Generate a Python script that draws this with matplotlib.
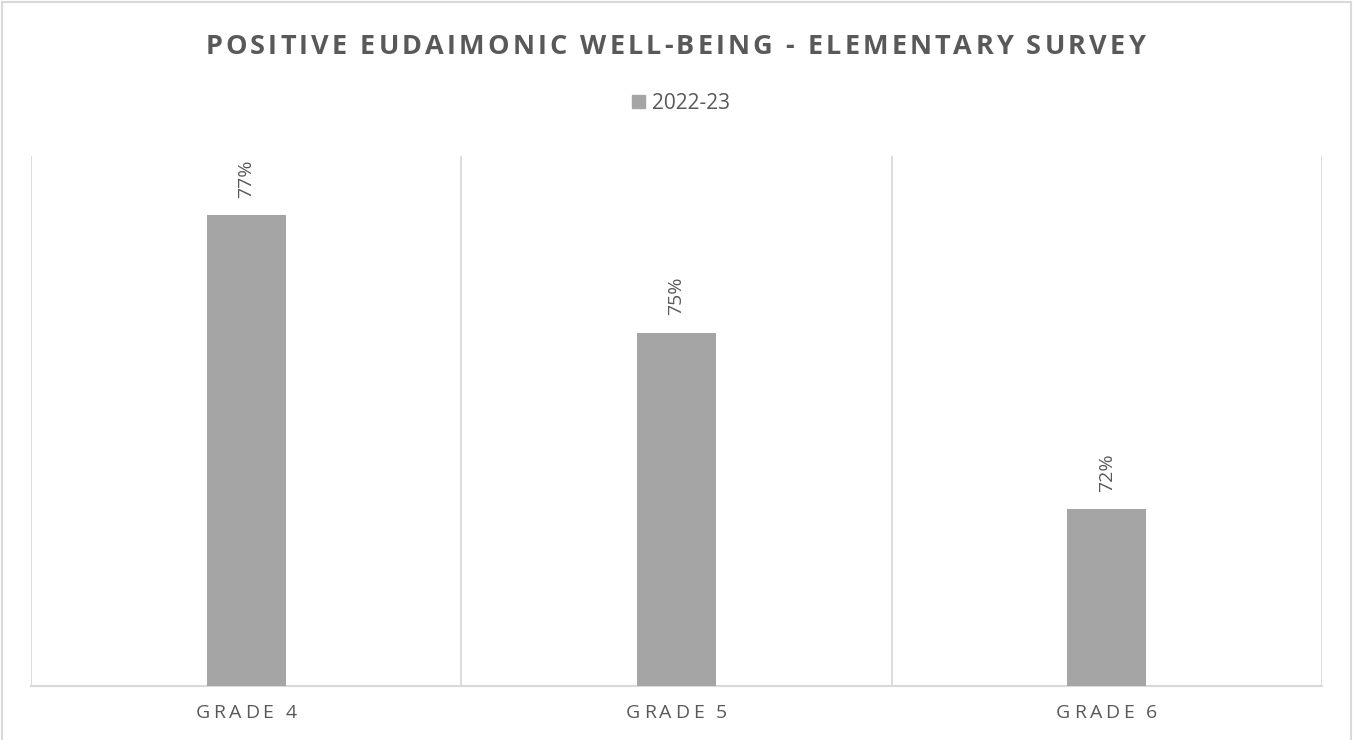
import numpy as np
import matplotlib
matplotlib.use("Agg")
import matplotlib.pyplot as plt
from matplotlib.font_manager import FontProperties, findfont, get_font
from matplotlib.transforms import offset_copy, blended_transform_factory
from matplotlib.patches import Rectangle

# ---- data ----
categories = ["GRADE 4", "GRADE 5", "GRADE 6"]
series_name = "2022-23"
values = [77, 75, 72]
title = "POSITIVE EUDAIMONIC WELL-BEING - ELEMENTARY SURVEY"

BAR = "#A5A5A5"
GRID = "#D9D9D9"
TXT = "#595959"
FONT = "Open Sans"

W, H, DPI = 1354, 740, 100
fig = plt.figure(figsize=(W / DPI, H / DPI), dpi=DPI)
fig.patch.set_facecolor("white")

ax = fig.add_axes([31 / W, (H - 686) / H, (1322 - 31) / W, (686 - 156) / H])
x = np.arange(len(categories))
ax.bar(x, values, width=0.184, color=BAR, zorder=3)
ax.set_xlim(-0.5, len(categories) - 0.5)
ax.set_ylim(69, 78)

for s in ["top", "left", "right"]:
    ax.spines[s].set_visible(False)
ax.spines["bottom"].set_color(GRID)
ax.spines["bottom"].set_linewidth(1.5)
ax.set_yticks([])
ax.set_xticks(np.arange(len(categories) + 1) - 0.5)
ax.set_xticklabels([])
ax.tick_params(axis="x", length=0)
ax.grid(axis="x", color=GRID, linewidth=1.3, zorder=0)
ax.set_axisbelow(True)

# data labels
for xi, v in zip(x, values):
    ax.annotate(f"{v}%", (xi, v), xytext=(0, 12.5), textcoords="offset points",
                rotation=90, ha="center", va="bottom", fontsize=14,
                family=FONT, color=TXT)


def advances(s, prop):
    font = get_font(findfont(prop))
    upem = font.units_per_EM
    try:
        from matplotlib.ft2font import LoadFlags
        flag = LoadFlags.NO_SCALE
    except Exception:
        from matplotlib.ft2font import LOAD_NO_SCALE as flag
    px = prop.get_size_in_points() * DPI / 72.0
    out = []
    for ch in s:
        g = font.load_char(ord(ch), flags=flag)
        out.append(g.horiAdvance / upem * px)
    return out


def spaced_text(xc, y, s, spacing, transform, size, weight="normal", color=TXT, va="center"):
    prop = FontProperties(family=FONT, weight=weight, size=size)
    adv = advances(s, prop)
    total = sum(adv) + spacing * (len(s) - 1)
    pos = -total / 2.0
    for ch, a in zip(s, adv):
        if ch != " ":
            tr = offset_copy(transform, fig=fig, x=pos + a / 2.0, y=0, units="dots")
            fig.text(xc, y, ch, transform=tr, ha="center", va=va,
                     fontproperties=prop, color=color)
        pos += a + spacing


# title
spaced_text(0.5 * (202 + 1148) / W, 1 - 47.5 / H, title, 3.1, fig.transFigure, 19.5,
            weight="bold")

# category labels
btf = blended_transform_factory(ax.transData, fig.transFigure)
for xi, c in zip(x, categories):
    spaced_text(xi, 1 - 713.5 / H, c, 3.6, btf, 14)

# legend
leg = fig.legend([Rectangle((0, 0), 1, 1, color=BAR)], [series_name],
                 loc="center", bbox_to_anchor=(681 / W, 1 - 103.5 / H),
                 frameon=False, prop=FontProperties(family=FONT, size=15),
                 handlelength=0.6, handleheight=0.6, handletextpad=0.33,
                 borderpad=0, borderaxespad=0)
for t in leg.get_texts():
    t.set_color(TXT)

# chart border
fig.add_artist(Rectangle((1.5 / W, -0.01), (1351 - 1.5) / W, 1.01 - 1.5 / H,
                         transform=fig.transFigure, fill=False, edgecolor=GRID,
                         linewidth=1.5))

fig.savefig("out.png", dpi=DPI, facecolor="white")
